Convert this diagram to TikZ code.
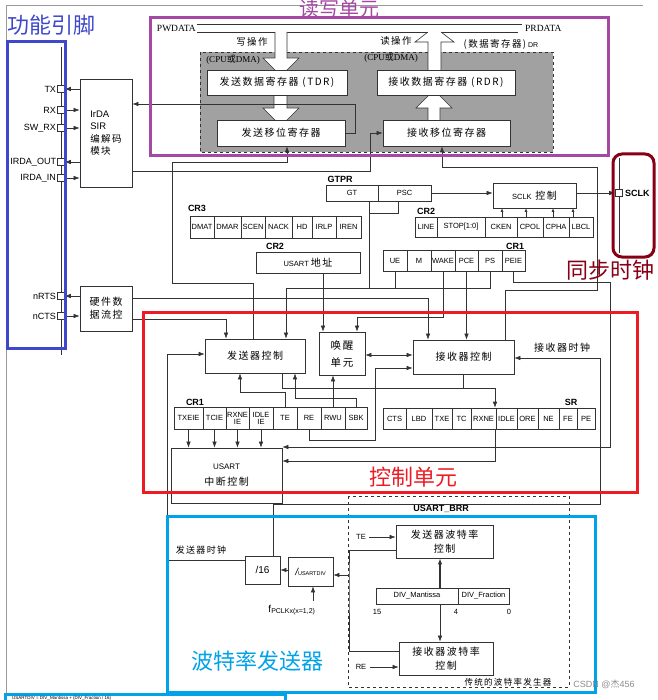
\documentclass[tikz,border=0pt]{standalone}
\usepackage{fontspec}
\setmainfont{Liberation Sans}
\newfontfamily\cjk[LetterSpace=15]{Noto Sans CJK SC}
\newfontfamily\cjkplain{Noto Sans CJK SC}
\newfontfamily\serfont{Liberation Serif}
\usetikzlibrary{arrows.meta}
\usetikzlibrary{positioning,calc}
\definecolor{pinblue}{HTML}{3F48CC}
\definecolor{rwpurple}{HTML}{A349A4}
\definecolor{clkred}{HTML}{880015}
\definecolor{ctlred}{HTML}{ED1C24}
\definecolor{brblue}{HTML}{00A2E8}
\definecolor{ink}{HTML}{333333}
\tikzset{
  blk/.style={draw=ink, fill=white, line width=0.7pt, inner sep=0pt, align=center,
    font=\fontsize{10}{14}\selectfont\cjk},
  cell/.style={draw=ink, fill=white, line width=0.6pt, inner sep=0pt, align=center,
    font=\fontsize{7.5}{7}\selectfont},
  reglab/.style={font=\bfseries\fontsize{9}{9}\selectfont},
  pinbox/.style={draw=ink, fill=white, minimum size=7, inner sep=0pt, line width=0.6pt},
  pinlab/.style={anchor=east, inner sep=1pt, font=\fontsize{9}{9}\selectfont},
  wire/.style={draw=ink, line width=0.6pt},
  arr/.style={wire, -{Latex[length=6pt,width=4.5pt]}},
  darr/.style={wire, {Latex[length=6pt,width=4.5pt]}-{Latex[length=6pt,width=4.5pt]}},
  sarr/.style={wire, -{Latex[length=3.5pt,width=3pt]}},
  note/.style={font=\fontsize{9.5}{10}\selectfont\cjk},
  busfont/.style={font=\serfont\fontsize{9.5}{10}\selectfont},
  legend/.style={font=\fontsize{22}{22}\selectfont\cjkplain},
  legframe/.style={line width=3pt}
}

\begin{document}
\begin{tikzpicture}[x=1pt,y=-1pt]
\clip (0,0) rectangle (657,700);
\draw[black!40, line width=0.8pt] (6,700) -- (6,5) -- (643,5);

% data buses and registers
\draw[wire] (197,24) -- (522,24);
\draw[wire] (197,32) -- (275,32) (287,32) -- (428,32) (441,32) -- (518,32);
\node[busfont, anchor=east, inner sep=1pt] (pwdata) at (197,28) {PWDATA};
\node[busfont, anchor=west, inner sep=1pt] (prdata) at (524,28) {PRDATA};
\draw[dashed, draw=ink, fill=black!37, line width=0.7pt] (200,52) rectangle (553,152);

\fill[white] (275,32) -- (275,58) -- (263,58) -- (281,76) -- (299,58) -- (287,58) -- (287,32) -- cycle;
\draw[wire] (275,32) -- (275,58) -- (263,58) -- (281,76) -- (299,58) -- (287,58) -- (287,32);
\fill[white] (274,95) -- (274,108) -- (263,108) -- (281,126) -- (299,108) -- (287,108) -- (287,95) -- cycle;
\draw[wire] (274,95) -- (274,108) -- (263,108) -- (281,126) -- (299,108) -- (287,108) -- (287,95);
\fill[white] (428,120) -- (428,108) -- (416,108) -- (434,90) -- (452,108) -- (440,108) -- (440,120) -- cycle;
\draw[wire] (428,120) -- (428,108) -- (416,108) -- (434,90) -- (452,108) -- (440,108) -- (440,120);
\fill[white] (428,70) -- (428,42) -- (415,42) -- (428,32) -- (441,32) -- (454,42) -- (441,42) -- (441,70) -- cycle;
\draw[wire] (428,70) -- (428,42) -- (415,42) -- (428,32) (441,32) -- (454,42) -- (441,42) -- (441,70);

\node[blk, minimum width=140, minimum height=25] (tdr) at (277,82.5) {发送数据寄存器 (TDR)};
\node[blk, minimum width=128, minimum height=26] (tsr) at (281,133) {发送移位寄存器};
\node[blk, minimum width=138, minimum height=25] (rdr) at (446,82.5) {接收数据寄存器 (RDR)};
\node[blk, minimum width=127, minimum height=26] (rsr) at (446.5,133) {接收移位寄存器};

\node[note] (wrop) at (252,42) {写操作};
\node[note] (rdop) at (396,41) {读操作};
\node[busfont, font=\serfont\fontsize{9}{9}\selectfont] (cpu1) at (233,60) {(CPU{\cjkplain 或}DMA)};
\node[busfont, font=\serfont\fontsize{9}{9}\selectfont] (cpu2) at (391,58) {(CPU{\cjkplain 或}DMA)};
\node[note, font=\fontsize{9.5}{10}\selectfont\cjk] (drlab) at (501,44) {(数据寄存器){\normalfont\fontsize{7}{7}\selectfont\ DR}};

% pins
\draw[wire] (61,47) -- (61,355);
\foreach \nm/\lab/\y in {tx/TX/89, rx/RX/110, swrx/SW\_RX/128, irdaout/IRDA\_OUT/162, irdain/IRDA\_IN/178, nrts/nRTS/296, ncts/nCTS/316}{
  \node[pinbox] (\nm) at (61,\y) {};
  \node[pinlab] (\nm-l) at (\nm.west) {\lab};
}
\node[blk, minimum width=52, minimum height=108, align=left, font=\fontsize{9.5}{12.5}\selectfont] (irda) at (106,133) {IrDA\\SIR\\{\cjk 编解码}\\{\cjk 模块}};
\node[blk, minimum width=52, minimum height=45, font=\fontsize{10}{13}\selectfont\cjk] (hwfc) at (106,308.5) {硬件数\\据流控};
\draw[arr] (irda.west |- tx) -- (tx.east);
\draw[arr] (rx.east) -- (irda.west |- rx);
\draw[arr] (swrx.east) -- (irda.west |- swrx);
\draw[arr] (irda.west |- irdaout) -- (irdaout.east);
\draw[arr] (irdain.east) -- (irda.west |- irdain);
\draw[arr] (hwfc.west |- nrts) -- (nrts.east);
\draw[arr] (ncts.east) -- (hwfc.west |- ncts);

% control registers
\node[reglab] (gtpr-l) at (340,179) {GTPR};
\foreach \nm/\lab/\xa/\xb in {gt/GT/326/378, psc/PSC/378/431}
  \node[cell, minimum width=\xb-\xa, minimum height=16] (\nm) at ({(\xa+\xb)/2},193) {\lab};
\node[reglab] (cr3-l) at (197,208) {CR3};
\foreach \nm/\lab/\xa/\xb in {dmat/DMAT/190/214, dmar/DMAR/214/241, scen/SCEN/241/265, nack/NACK/265/292, hd/HD/292/312, irlp/IRLP/312/336, iren/IREN/336/361}
  \node[cell, minimum width=\xb-\xa, minimum height=22] (\nm) at ({(\xa+\xb)/2},227) {\lab};
\node[reglab] (cr2a-l) at (426,211) {CR2};
\foreach \nm/\lab/\xa/\xb in {line/LINE/415/437, stop/{STOP[1:0]}/437/485, cken/CKEN/485/517, cpol/CPOL/517/543, cpha/CPHA/543/569, lbcl/LBCL/569/593}
  \node[cell, minimum width=\xb-\xa, minimum height=20] (\nm) at ({(\xa+\xb)/2},227) {\lab};
\node[reglab] (cr2b-l) at (275,246) {CR2};
\node[blk, minimum width=104, minimum height=21, font=\fontsize{7.5}{8}\selectfont] (addr) at (308,262.5) {USART {\cjk\fontsize{10}{10}\selectfont 地址}};
\node[reglab] (cr1a-l) at (515,246) {CR1};
\foreach \nm/\lab/\xa/\xb in {ue/UE/383/407, mbit/M/407/431, wake/WAKE/431/455, pce/PCE/455/478, ps/PS/478/502, peie/PEIE/502/525}
  \node[cell, minimum width=\xb-\xa, minimum height=21] (\nm) at ({(\xa+\xb)/2},260.5) {\lab};
\node[blk, minimum width=83, minimum height=25] (sclkc) at (534.5,195.5) {{\normalfont\fontsize{7.5}{9}\selectfont SCLK} 控制};
\draw[wire] (619,158) -- (619,253);
\node[pinbox] (sclk) at (619,193) {};
\node[anchor=west, inner sep=2pt, font=\bfseries\fontsize{9}{9}\selectfont] (sclk-l) at (sclk.east) {SCLK};

% control unit
\node[blk, minimum width=100, minimum height=34] (txc) at (255,356) {发送器控制};
\node[blk, minimum width=46, minimum height=43, font=\fontsize{10.5}{17}\selectfont\cjk] (wku) at (342,353.5) {唤醒\\单元};
\node[blk, minimum width=101, minimum height=34] (rxc) at (463.5,357) {接收器控制};
\node[reglab] (cr1b-l) at (195,402) {CR1};
\foreach \nm/\lab/\xa/\xb in {txeie/TXEIE/174/203, tcie/TCIE/203/226, rxneie/{RXNE\\IE}/226/249, idleie/{IDLE\\IE}/249/273, te/TE/273/297, re/RE/297/321, rwu/RWU/321/345, sbk/SBK/345/367}
  \node[cell, minimum width=\xb-\xa, minimum height=22] (\nm) at ({(\xa+\xb)/2},418) {\lab};
\node[reglab] (sr-l) at (571,402) {SR};
\foreach \nm/\lab/\xa/\xb in {cts/CTS/383/406, lbd/LBD/406/432, txe/TXE/432/452, tc/TC/452/471, rxne/RXNE/471/496, idle/IDLE/496/517, ore/ORE/517/538, ne/NE/538/559, fe/FE/559/577, pe/PE/577/595}
  \node[cell, minimum width=\xb-\xa, minimum height=21] (\nm) at ({(\xa+\xb)/2},418.5) {\lab};
\node[blk, minimum width=111, minimum height=55, font=\fontsize{8}{9}\selectfont] (intc) at (226.5,475.5) {USART\\[7pt]{\cjk\fontsize{10}{10}\selectfont 中断控制}};

% baud rate
\draw[dashed, wire] (348,496) rectangle (569,687);
\node[reglab] (brr-l) at (441,509) {USART\_BRR};
\node[blk, minimum width=97, minimum height=33] (tbr) at (444.5,541.5) {发送器波特率\\控制};
\node[blk, minimum width=94, minimum height=33] (rbr) at (446,658.5) {接收器波特率\\控制};
\foreach \nm/\lab/\xa/\xb in {mant/DIV\_Mantissa/376/458, frac/DIV\_Fraction/458/509}
  \node[cell, minimum width=\xb-\xa, minimum height=16] (\nm) at ({(\xa+\xb)/2},596) {\lab};
\node[font=\fontsize{7.5}{8}\selectfont] (b15) at (377,612) {15};
\node[font=\fontsize{7.5}{8}\selectfont] (b4) at (456,612) {4};
\node[font=\fontsize{7.5}{8}\selectfont] (b0) at (509,612) {0};
\node[blk, minimum width=35, minimum height=28, font=\fontsize{10}{10}\selectfont] (div16) at (262.5,570) {/16};
\node[blk, minimum width=45, minimum height=29, font=\fontsize{10}{10}\selectfont] (udiv) at (310.5,571.5) {{\itshape /}{\fontsize{5.5}{6}\selectfont USARTDIV}};
\node[font=\fontsize{10}{10}\selectfont] (fpclk) at (292,610) {f\textsubscript{PCLKx(x=1,2)}};
\node[font=\fontsize{7.5}{8}\selectfont] (brte) at (361,537) {TE};
\node[font=\fontsize{7.5}{8}\selectfont] (brre) at (361,667) {RE};
\node[note, font=\fontsize{8.5}{9}\selectfont\cjk] (bgen) at (508,682) {传统的波特率发生器};

% connections
\draw[arr] (tsr.east) -| (355,104) -- (irda.east |- 355,104);
\draw[arr] (irda.east |- 0,171) -| (370,133) -- (rsr.west);
\draw[arr] (txc.north -| 253,0) |- (172,283) |- (287,162) -- (tsr.south -| 287,0);
\draw[arr] (rxc.north -| 505,0) |- (597,290) |- (442,167) -- (rsr.south -| 442,0);
\draw[arr] (hwfc.east |- 0,298) -| (rxc.north -| 428,0);
\draw[arr] (hwfc.east |- 0,319) -| (txc.north -| 226,0);
\coordinate (tsum) at (286,288);
\draw[wire] (gt.south -| 369,0) -- (369,288);
\draw[wire] (psc.south -| 398,0) |- (369,213);
\draw[wire] (ue.south) |- (tsum);
\draw[wire] (ps.south) |- (ue.south |- tsum);
\draw[arr] (tsum) -- (txc.north -| tsum);
\draw[arr] (psc.east) -- (psc.east -| sclkc.west);
\draw[arr] (sclkc.east |- psc.east) -- (sclk.west);
\foreach \rg/\xx in {cken/502, cpol/526, cpha/553, lbcl/573}
  \draw[sarr] (\rg.north -| \xx,0) -- (sclkc.south -| \xx,0);
\draw[arr] (addr.south -| 323,0) -- (wku.north -| 323,0);
\draw[arr] (wake.south) |- (357,317) -- (wku.north -| 357,0);
\draw[arr] (pce.south) -- (rxc.north -| pce.south);
\draw[arr] (peie.south) |- (610,282) |- (intc.east |- 0,447);
\coordinate (srin) at (495,388);
\draw[wire] (txc.south -| 282,0) |- (rxc.south |- srin);
\draw[arr] (rxc.south) |- (srin) -- (srin |- rxne.north);
\draw[arr] (srin |- rxne.south) |- (intc.east |- 0,461);
\coordinate (rclk) at (600,504);
\draw[arr] (div16.north -| 273,0) |- (rclk) |- (rxc.east |- 0,358);
\node[note, font=\fontsize{10}{10}\selectfont\cjk] (rclk-l) at (562,348) {接收器时钟};
\draw[arr] (div16.west |- 0,560) -| (167,354) -- (txc.west |- 0,354);
\node[note, font=\fontsize{9}{9}\selectfont\cjk] (tclk-l) at (201,550) {发送器时钟};
\draw[darr] (wku.east |- 0,355) -- (rxc.west |- 0,355);
\draw[arr] (re.south) |- (375,440) |- (rxc.west |- 0,368);
\draw[arr] (te.north) |- (240,392) -- (txc.south -| 240,0);
\draw[arr] (sbk.north) |- (295,398) -- (txc.south -| 295,0);
\draw[arr] (rwu.north) -- (wku.south -| rwu.north);
\foreach \rg in {txeie,tcie,rxneie,idleie}
  \draw[arr] (\rg.south) -- (intc.north -| \rg.south);
\draw[arr, line width=1.3pt] (mant.north -| 440,0) -- (tbr.south -| 440,0);
\draw[arr] (mant.south -| 440,0) -- (rbr.north -| 440,0);
\draw[arr] (brte.east) -- (tbr.west |- brte);
\draw[arr] (brre.east) -- (rbr.west |- brre);
\coordinate (bsplit) at (349,575);
\draw[wire] (tbr.west |- 0,550) -| (bsplit) |- (rbr.west |- 0,651);
\draw[arr] (bsplit) -- (udiv.east |- bsplit);
\draw[arr] (udiv.west |- 0,570) -- (div16.east |- 0,570);
\draw[arr] (fpclk.north -| 313,0) -- (udiv.south -| 313,0);

% marked regions
\draw[pinblue, legframe] (7,42) rectangle (65,348);
\node[legend, text=pinblue] (lg-pin) at (51,25) {功能引脚};
\draw[rwpurple, legframe] (150,18) rectangle (608,156);
\node[legend, text=rwpurple, font=\fontsize{20}{20}\selectfont\cjkplain] (lg-rw) at (339,9) {读写单元};
\draw[clkred, legframe, rounded corners=9pt] (613,154) rectangle (654,257);
\node[legend, text=clkred] (lg-clk) at (610,270) {同步时钟};
\draw[ctlred, legframe] (143,312) rectangle (637,492);
\node[legend, text=ctlred] (lg-ctl) at (413,477) {控制单元};
\draw[brblue, legframe] (167,516) rectangle (595,692);
\node[legend, text=brblue] (lg-br) at (257,661) {波特率发送器};
\draw[brblue, legframe] (5,704) -- (5,694) -- (285,694) -- (285,704);
\node[anchor=north west, inner sep=0pt, font=\fontsize{4.5}{4.5}\selectfont] (fml) at (12,696) {USARTDIV = DIV\_Mantissa + (DIV\_Fraction / 16)};
\node[text=black!45, font=\fontsize{9}{9}\selectfont] (wm) at (604,684) {CSDN @{\cjkplain 杰}456};
\end{tikzpicture}
\end{document}
